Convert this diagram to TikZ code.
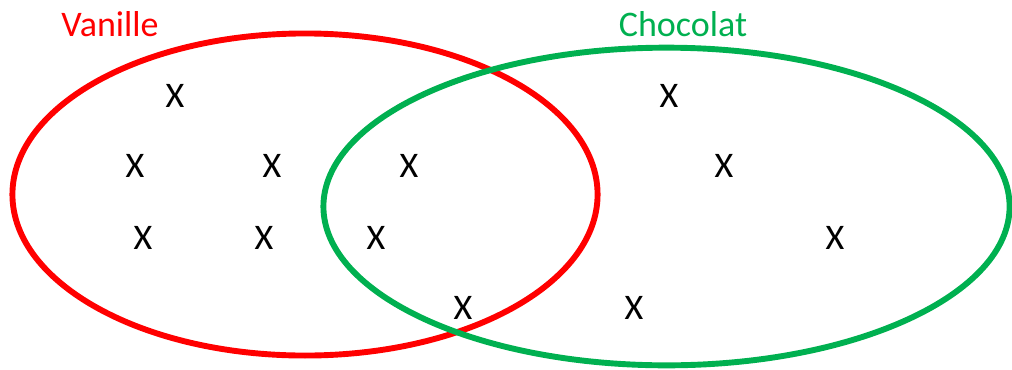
\documentclass[tikz,border=0pt]{standalone}
\usepackage{fontspec}
\setmainfont{Carlito}
\definecolor{vanred}{HTML}{FF0000}
\definecolor{chocgreen}{HTML}{00B050}

\begin{document}
\begin{tikzpicture}[x=0.025cm, y=-0.025cm,
  every node/.style={font=\fontsize{25.6}{30}\selectfont, inner sep=0pt, anchor=base},
  setline/.style={line width=4.2pt}]
  \useasboundingbox (0,0) rectangle (1012,369);
  \draw[setline, vanred] (305,194.5) ellipse [x radius=7.3125cm, y radius=4.025cm];
  \draw[setline, chocgreen] (666.5,206.5) ellipse [x radius=8.575cm, y radius=3.97cm];
  \node[text=vanred] (vanille) at (110,36) {Vanille};
  \node[text=chocgreen] (chocolat) at (683,36) {Chocolat};
  % elements
  \node (v1) at (175,107) {X};
  \node (v2) at (135,177) {X};
  \node (v3) at (272,177) {X};
  \node (v4) at (143,249) {X};
  \node (v5) at (264,249) {X};
  \node (b1) at (409,177) {X};
  \node (b2) at (376,249) {X};
  \node (b3) at (463,319) {X};
  \node (c1) at (669,107) {X};
  \node (c2) at (724,177) {X};
  \node (c3) at (835,249) {X};
  \node (c4) at (634,319) {X};
\end{tikzpicture}
\end{document}
